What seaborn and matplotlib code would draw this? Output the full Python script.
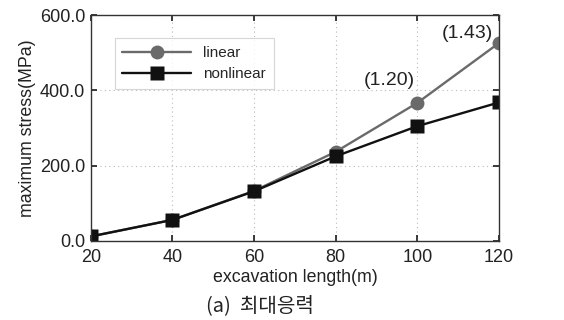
import matplotlib
matplotlib.use("Agg")
import matplotlib.pyplot as plt
import seaborn as sns
import pandas as pd

lengths = [20, 40, 60, 80, 100, 120]
linear = [12, 56, 133, 237, 367, 526]
nonlinear = [12, 56, 132, 225, 305, 368]
ratio_labels = ["(1.20)", "(1.43)"]
ratio_x = [100, 120]
ratio_offsets = [(-20, 16), (-23, 7)]

sns.set_theme(style="white")
plt.rcParams['font.family'] = ['Liberation Sans', 'Noto Sans CJK KR', 'DejaVu Sans']

df = pd.DataFrame({
    "x": lengths * 2,
    "y": linear + nonlinear,
    "series": ["linear"] * 6 + ["nonlinear"] * 6,
})

fig = plt.figure(figsize=(5.64, 3.2), dpi=100)
ax = fig.add_axes([0.161, 0.247, 0.724, 0.706])

sns.lineplot(data=df, x="x", y="y", hue="series", style="series",
             palette={"linear": "#6a6a6a", "nonlinear": "#111111"},
             markers={"linear": "o", "nonlinear": "s"}, dashes=False,
             markersize=10, linewidth=1.7, markeredgecolor="none", ax=ax)

ax.set_xlim(20, 120)
ax.set_ylim(0, 600)
ax.set_xticks(lengths)
ax.set_yticks([0, 200, 400, 600])
ax.set_yticklabels(["0.0", "200.0", "400.0", "600.0"])
ax.grid(True, linestyle=(0, (1, 3)), color="#bbbbbb", linewidth=0.8)
ax.tick_params(direction="in", length=4, labelsize=13, colors="#222222",
               top=True, right=True, bottom=True, left=True)
ax.tick_params(axis="x", pad=6)
ax.tick_params(axis="y", pad=4)
for s in ax.spines.values():
    s.set_color("#333333")
    s.set_linewidth(1.0)
ax.set_xlabel("excavation length(m)", fontsize=12.8, labelpad=2, color="#222222")
ax.set_ylabel("maximum stress(MPa)", fontsize=12.8, labelpad=3, color="#222222")

for lbl, xv, off in zip(ratio_labels, ratio_x, ratio_offsets):
    yv = linear[lengths.index(xv)]
    ax.annotate(lbl, (xv, yv), xytext=off, textcoords="offset points",
                ha="center", va="center", fontsize=14, color="#222222")

leg = ax.legend(loc="upper left", bbox_to_anchor=(0.04, 0.93), fontsize=11,
                frameon=True, fancybox=False, handlelength=4.5,
                edgecolor="#cccccc", borderpad=0.5, labelspacing=0.45)
leg.get_frame().set_linewidth(0.8)

fig.text(0.46, 0.012, "(a)  최대응력", ha="center", va="bottom", fontsize=14.5,
         family=['Noto Sans CJK KR', 'DejaVu Sans'], color="#222222")

fig.savefig("out.png", dpi=100)
